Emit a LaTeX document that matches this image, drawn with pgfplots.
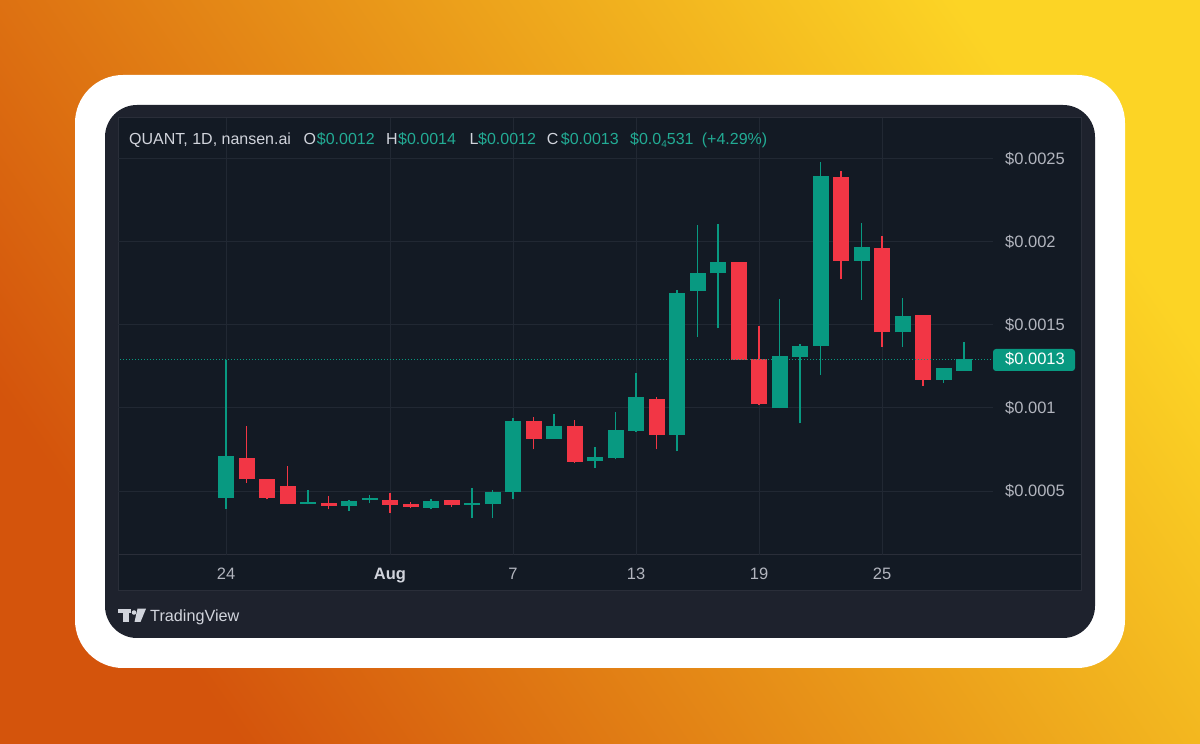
\documentclass[border=0pt]{standalone}
\usepackage{pgfplots}
\pgfplotsset{compat=1.18}
\usepackage{pgfplotstable}
\usepackage{fontspec}
\setmainfont{Liberation Sans}
\definecolor{tvgreen}{HTML}{089981}
\definecolor{tvred}{HTML}{F23645}
\definecolor{txtgreen}{HTML}{22AB94}
\definecolor{panelout}{HTML}{1E222D}
\definecolor{panelin}{HTML}{131A24}
\definecolor{framec}{HTML}{2A2E39}
\definecolor{gridc}{HTML}{212833}
\definecolor{labgray}{HTML}{B2B5BE}
\definecolor{hdrgray}{HTML}{D1D4DC}
\definecolor{bgdark}{HTML}{D4540C}
\definecolor{bglight}{HTML}{FCD425}

% bullish candles: day index (0 = Jul 24), open, high, low, close
\pgfplotstableread{
d o h l c
0 0.00046 0.00129 0.00039 0.00071
4 0.000422 0.000506 0.00042 0.000436
6 0.00041 0.000445 0.00038 0.000442
7 0.000448 0.000474 0.000426 0.000458
10 0.000398 0.00045 0.00039 0.000442
12 0.000418 0.00052 0.00034 0.000428
13 0.000424 0.000508 0.000336 0.000496
14 0.000494 0.000938 0.00045 0.000924
16 0.000815 0.000962 0.000812 0.000892
18 0.000679 0.000763 0.000639 0.000703
19 0.000697 0.000974 0.00069 0.000867
20 0.000863 0.001213 0.000857 0.001064
22 0.000837 0.001711 0.000739 0.001691
23 0.001707 0.002102 0.00143 0.001815
24 0.001811 0.002108 0.00148 0.00188
27 0.000998 0.001657 0.000998 0.001313
28 0.001309 0.001384 0.000908 0.001373
29 0.001373 0.002484 0.001199 0.002398
31 0.001887 0.002116 0.001651 0.001972
33 0.001456 0.001661 0.001369 0.001556
35 0.00117 0.00124 0.001153 0.001239
36 0.001225 0.001399 0.001225 0.001293
}\upT

% bearish candles
\pgfplotstableread{
d o h l c
1 0.00070 0.00089 0.00055 0.00057
2 0.00057 0.000575 0.00045 0.00046
3 0.00053 0.00065 0.00042 0.00042
5 0.00043 0.00047 0.00039 0.00041
8 0.000448 0.00049 0.00037 0.000418
9 0.000422 0.000432 0.000396 0.000406
11 0.000444 0.000448 0.000406 0.000418
15 0.000924 0.000948 0.000751 0.000815
17 0.00089 0.000928 0.00067 0.000677
21 0.001052 0.001068 0.000751 0.000837
25 0.00188 0.00188 0.001289 0.001289
26 0.001293 0.001494 0.00102 0.001024
30 0.002393 0.00243 0.001775 0.001887
32 0.001964 0.002036 0.001369 0.001456
34 0.00156 0.00156 0.001133 0.001169
}\downT

\newcommand\tickfont{\fontsize{16.5}{18}\selectfont}
\newcommand\hdrfont{\fontsize{16}{18}\selectfont}

\begin{document}
\begin{tikzpicture}[x=1pt,y=1pt]
\useasboundingbox (0,0) rectangle (1200,744);
\shade[left color=bgdark, right color=bglight, shading angle=125] (0,0) rectangle (1200,744);
\fill[white, rounded corners=48pt] (75,76) rectangle (1125,669);
\fill[panelout, rounded corners=32pt] (105,106) rectangle (1095,639);
\fill[panelin, draw=framec, line width=1pt] (118,153) rectangle (1081,626);
\draw[framec, line width=1pt] (118,189) -- (1081,189);

\begin{axis}[
  at={(118pt,189pt)}, anchor=south west,
  width=875pt, height=437pt, scale only axis,
  xmin=-5.268, xmax=37.41, ymin=0.0001145, ymax=0.002747,
  axis line style={draw=none},
  major tick length=0pt,
  xtick={0,8,14,20,26,32},
  xticklabels={24,{\color{hdrgray}\bfseries Aug},7,13,19,25},
  ytick={0.0005,0.001,0.0015,0.002,0.0025},
  yticklabels={\$0.0005,\$0.001,\$0.0015,\$0.002,\$0.0025},
  scaled y ticks=false, scaled x ticks=false,
  yticklabel pos=right,
  grid=major,
  major grid style={draw=gridc, line width=1pt},
  xticklabel style={anchor=base, yshift=-25pt, inner sep=0pt, font=\tickfont, text=labgray},
  yticklabel style={anchor=base west, xshift=12pt, yshift=-5.9pt, inner sep=0pt, font=\tickfont, text=labgray},
  clip=true,
]
% wicks
\addplot[draw=none, mark=none, forget plot,
  error bars/.cd, y dir=plus, y explicit, error mark=none,
  error bar style={line width=1.7pt, draw=tvgreen, solid}]
  table[x=d, y=l, y error expr=\thisrow{h}-\thisrow{l}] {\upT};
\addplot[draw=none, mark=none, forget plot,
  error bars/.cd, y dir=plus, y explicit, error mark=none,
  error bar style={line width=1.7pt, draw=tvred, solid}]
  table[x=d, y=l, y error expr=\thisrow{h}-\thisrow{l}] {\downT};
% bodies
\addplot[draw=none, mark=none, forget plot,
  error bars/.cd, y dir=plus, y explicit, error mark=none,
  error bar style={line width=16pt, draw=tvgreen, solid}]
  table[x=d, y=o, y error expr=\thisrow{c}-\thisrow{o}] {\upT};
\addplot[draw=none, mark=none, forget plot,
  error bars/.cd, y dir=plus, y explicit, error mark=none,
  error bar style={line width=16pt, draw=tvred, solid}]
  table[x=d, y=c, y error expr=\thisrow{o}-\thisrow{c}] {\downT};
% last price line
\addplot[tvgreen, line width=1pt, dash pattern=on 1pt off 2pt, mark=none, forget plot]
  coordinates {(-5.3,0.001293) (37.5,0.001293)};
\end{axis}

% last price label
\fill[tvgreen, rounded corners=3pt] (993,373) rectangle (1075,395);
\node[anchor=base west, inner sep=0pt, font=\tickfont, text=white] at (1005,379.1) {\$0.0013};

% header
\begin{scope}[every node/.style={anchor=base west, inner sep=0pt, font=\hdrfont}]
\node[text=hdrgray] at (129,599) {QUANT, 1D, nansen.ai};
\node[text=hdrgray] at (303.3,599) {O};
\node[text=txtgreen] at (316.7,599) {\$0.0012};
\node[text=hdrgray] at (386,599) {H};
\node[text=txtgreen] at (398,599) {\$0.0014};
\node[text=hdrgray] at (469.3,599) {L};
\node[text=txtgreen] at (478,599) {\$0.0012};
\node[text=hdrgray] at (546.7,599) {C};
\node[text=txtgreen] at (560.7,599) {\$0.0013};
\node[text=txtgreen] at (630,599) {\$0.0\raisebox{-0.25ex}{\fontsize{10}{10}\selectfont 4}531};
\node[text=txtgreen] at (701.7,599) {(+4.29\%)};
\end{scope}

% TradingView logo
\fill[hdrgray] (118.3,135.3) rectangle (130.7,131.3);
\fill[hdrgray] (123.3,131.3) rectangle (129,122);
\fill[hdrgray] (134,131.5) circle (2.3);
\fill[hdrgray] (137.5,135.3) -- (146,135.3) -- (140.5,122) -- (134.5,122) -- cycle;
\node[anchor=base west, inner sep=0pt, text=hdrgray, font=\fontsize{16.2}{18}\selectfont] at (150,122.7) {TradingView};
\end{tikzpicture}
\end{document}
